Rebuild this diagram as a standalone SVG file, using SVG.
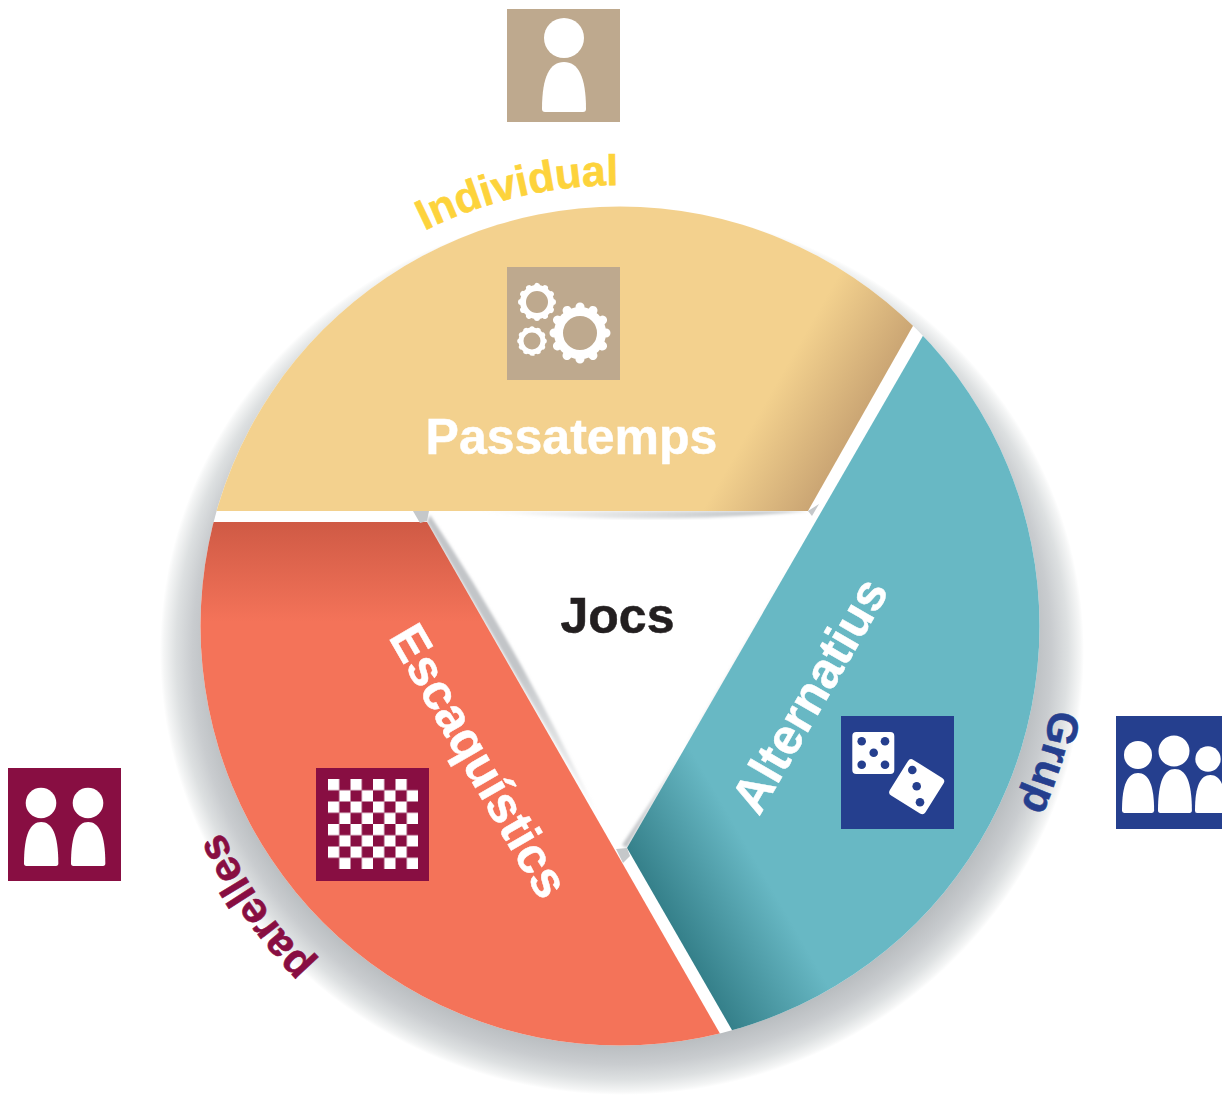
<svg xmlns="http://www.w3.org/2000/svg" width="1222" height="1095" viewBox="0 0 1222 1095">
<style>
text{font-family:"Liberation Sans",Arial,sans-serif;font-weight:700}
.big{font-size:50px;fill:#fff;stroke:#fff;stroke-width:.5}
.arc{font-size:43px;stroke-width:.6}
.w{fill:#fff}
.ring{fill:none;stroke:#fff}
.teeth{fill:none;stroke:#fff;stroke-linecap:round}
.tan{fill:#bea98e}.navy{fill:#253f8e}.mar{fill:#880e42}
.pip{fill:#253f8e}
</style>
<defs>
<radialGradient id="halo" cx="622" cy="652" r="1" gradientUnits="userSpaceOnUse" gradientTransform="translate(622 652) scale(462 443) translate(-622 -652)">
<stop offset="0.885" stop-color="#b9bdc0"/><stop offset="0.93" stop-color="#c9cccf"/><stop offset="0.965" stop-color="#dde0e1"/><stop offset="0.992" stop-color="#f5f6f6"/><stop offset="1" stop-color="#fff"/>
</radialGradient>
<linearGradient id="gy" gradientUnits="userSpaceOnUse" x1="860" y1="418" x2="782" y2="373"><stop offset="0" stop-color="#cba674"/><stop offset="1" stop-color="#f3d18e"/></linearGradient>
<linearGradient id="go" gradientUnits="userSpaceOnUse" x1="0" y1="522" x2="0" y2="622"><stop offset="0" stop-color="#cf5a45"/><stop offset="1" stop-color="#f47359"/></linearGradient>
<linearGradient id="gt" gradientUnits="userSpaceOnUse" x1="680" y1="940" x2="771" y2="887"><stop offset="0" stop-color="#35808a"/><stop offset="1" stop-color="#68b8c4"/></linearGradient>
<linearGradient id="s1" gradientUnits="userSpaceOnUse" x1="808" y1="0" x2="480" y2="0"><stop offset="0" stop-color="#b9bdc0"/><stop offset="1" stop-color="#b9bdc0" stop-opacity="0"/></linearGradient>
<linearGradient id="s2" gradientUnits="userSpaceOnUse" x1="427" y1="522" x2="600" y2="820"><stop offset="0" stop-color="#c2c5c8"/><stop offset="0.5" stop-color="#c2c5c8"/><stop offset="1" stop-color="#c2c5c8" stop-opacity="0"/></linearGradient>
<linearGradient id="s3" gradientUnits="userSpaceOnUse" x1="627" y1="848" x2="800" y2="548"><stop offset="0" stop-color="#c2c5c8"/><stop offset="1" stop-color="#c2c5c8" stop-opacity="0"/></linearGradient>
<filter id="soft" x="-10%" y="-10%" width="120%" height="120%"><feGaussianBlur stdDeviation="1.5"/></filter>
<pattern id="chess" patternUnits="userSpaceOnUse" x="328" y="779" width="22.5" height="22.5"><rect width="11.25" height="11.25" fill="#fff"/><rect x="11.25" y="11.25" width="11.25" height="11.25" fill="#fff"/></pattern>
<path id="body" d="M0 47C0 14 8 0 22 0S44 14 44 47Q44 50 41 50H3Q0 50 0 47Z"/>
<path id="pInd" d="M424.6 230.7A441 441 0 0 1 658.4 186.7"/>
<path id="pPar" d="M314 965A461 461 0 0 1 192 540"/>
<path id="pGru" d="M1051.500 709A439.5 439.5 0 0 1 1001 846"/>
<clipPath id="page"><rect width="1222" height="1095"/></clipPath>
<clipPath id="round"><circle cx="620" cy="626" r="419.5"/></clipPath>
</defs>

<g id="disc">
<ellipse cx="622" cy="652" rx="462" ry="443" fill="url(#halo)"/>
<circle cx="620" cy="626" r="419.5" fill="#fff"/>
<path d="M808 511Q650 526 470 511Z" fill="url(#s1)" filter="url(#soft)"/>
<path d="M427 522L600 820Q520 650 430 515Z" fill="url(#s2)" filter="url(#soft)"/>
<path d="M627 848L805 540Q720 700 622 845Z" fill="url(#s3)" filter="url(#soft)"/>
</g>

<g id="passatemps">
<path clip-path="url(#round)" d="M808 511L960 243V100H100V511Z" fill="url(#gy)"/>
<rect class="tan" x="507" y="267" width="113" height="113"/>
<g id="gear-big">
<circle class="ring" cx="580" cy="333" r="21.5" stroke-width="9"/>
<circle class="teeth" cx="580" cy="333" r="26" stroke-width="9" pathLength="24" stroke-dasharray=".01 1.99"/>
</g>
<g id="gear-mid">
<circle class="ring" cx="537" cy="302" r="14" stroke-width="6"/>
<circle class="teeth" cx="537" cy="302" r="16" stroke-width="6" pathLength="24" stroke-dasharray=".01 1.99"/>
</g>
<g id="gear-small">
<circle class="ring" cx="532" cy="341" r="11" stroke-width="5"/>
<circle class="teeth" cx="532" cy="341" r="12.3" stroke-width="5" pathLength="24" stroke-dasharray=".01 1.99"/>
</g>
<text class="big" x="571.5" y="454" text-anchor="middle">Passatemps</text>
</g>

<g id="escaquistics">
<path clip-path="url(#round)" d="M427 522L758 1100H100V522Z" fill="url(#go)"/>
<rect class="mar" x="316" y="768" width="113" height="113"/>
<rect x="328" y="779" width="90" height="90" fill="url(#chess)"/>
<text class="big" transform="translate(388 637) rotate(60)">Escaquístics</text>
</g>

<g id="alternatius">
<path clip-path="url(#round)" d="M950 289L627 848L770 1096H1200V289Z" fill="url(#gt)"/>
<rect class="navy" x="841" y="716" width="113" height="113"/>
<rect class="w" x="852.3" y="732" width="42" height="42" rx="4"/>
<circle class="pip" cx="861.7" cy="741.3" r="4.3"/><circle class="pip" cx="885" cy="741.3" r="4.3"/><circle class="pip" cx="873.7" cy="752.7" r="4.3"/><circle class="pip" cx="861.7" cy="764.7" r="4.3"/><circle class="pip" cx="885" cy="764.7" r="4.3"/>
<rect class="w" x="895.7" y="765.7" width="42" height="42" rx="4" transform="rotate(32 916.7 786.7)"/>
<circle class="pip" cx="912.3" cy="770" r="4.3"/><circle class="pip" cx="916.7" cy="786.3" r="4.3"/><circle class="pip" cx="920" cy="802.3" r="4.3"/>
<text class="big" transform="translate(759 817) rotate(-60)">Alternatius</text>
</g>

<g id="corners" fill="#c5c8ca">
<path d="M413 511H429L427 521L420 523Z"/>
<path d="M808 511L819 504L812 516Z"/>
<path d="M616 849L627 848L630 856L623 863Z"/>
</g>

<g id="jocs"><text x="617.5" y="633" text-anchor="middle" font-size="50" fill="#231f20" stroke="#231f20" stroke-width=".5">Jocs</text></g>

<g id="individual">
<rect class="tan" x="507" y="9" width="113" height="113"/>
<circle class="w" cx="564" cy="38" r="20"/>
<use href="#body" class="w" transform="translate(542 62)"/>
<text class="arc" fill="#fdd33b" stroke="#fdd33b"><textPath href="#pInd">Individual</textPath></text>
</g>

<g id="parelles">
<rect class="mar" x="8" y="768" width="113" height="113"/>
<circle class="w" cx="41" cy="803" r="15.3"/><circle class="w" cx="88" cy="803" r="15.3"/>
<use href="#body" class="w" transform="translate(24 822) scale(.78 .88)"/>
<use href="#body" class="w" transform="translate(71 822) scale(.78 .88)"/>
<text class="arc" fill="#880e42" stroke="#880e42"><textPath href="#pPar">parelles</textPath></text>
</g>

<g id="grup" clip-path="url(#page)">
<rect class="navy" x="1116" y="716" width="113" height="113"/>
<circle class="w" cx="1138" cy="755" r="14"/><circle class="w" cx="1174" cy="751" r="15.5"/><circle class="w" cx="1208" cy="759" r="12.7"/>
<use href="#body" class="w" transform="translate(1122 773) scale(.73 .8)"/>
<use href="#body" class="w" transform="translate(1158 769) scale(.77 .88)"/>
<use href="#body" class="w" transform="translate(1195 775) scale(.7 .76)"/>
<text class="arc" fill="#253f8e" stroke="#253f8e"><textPath href="#pGru">Grup</textPath></text>
</g>
</svg>
